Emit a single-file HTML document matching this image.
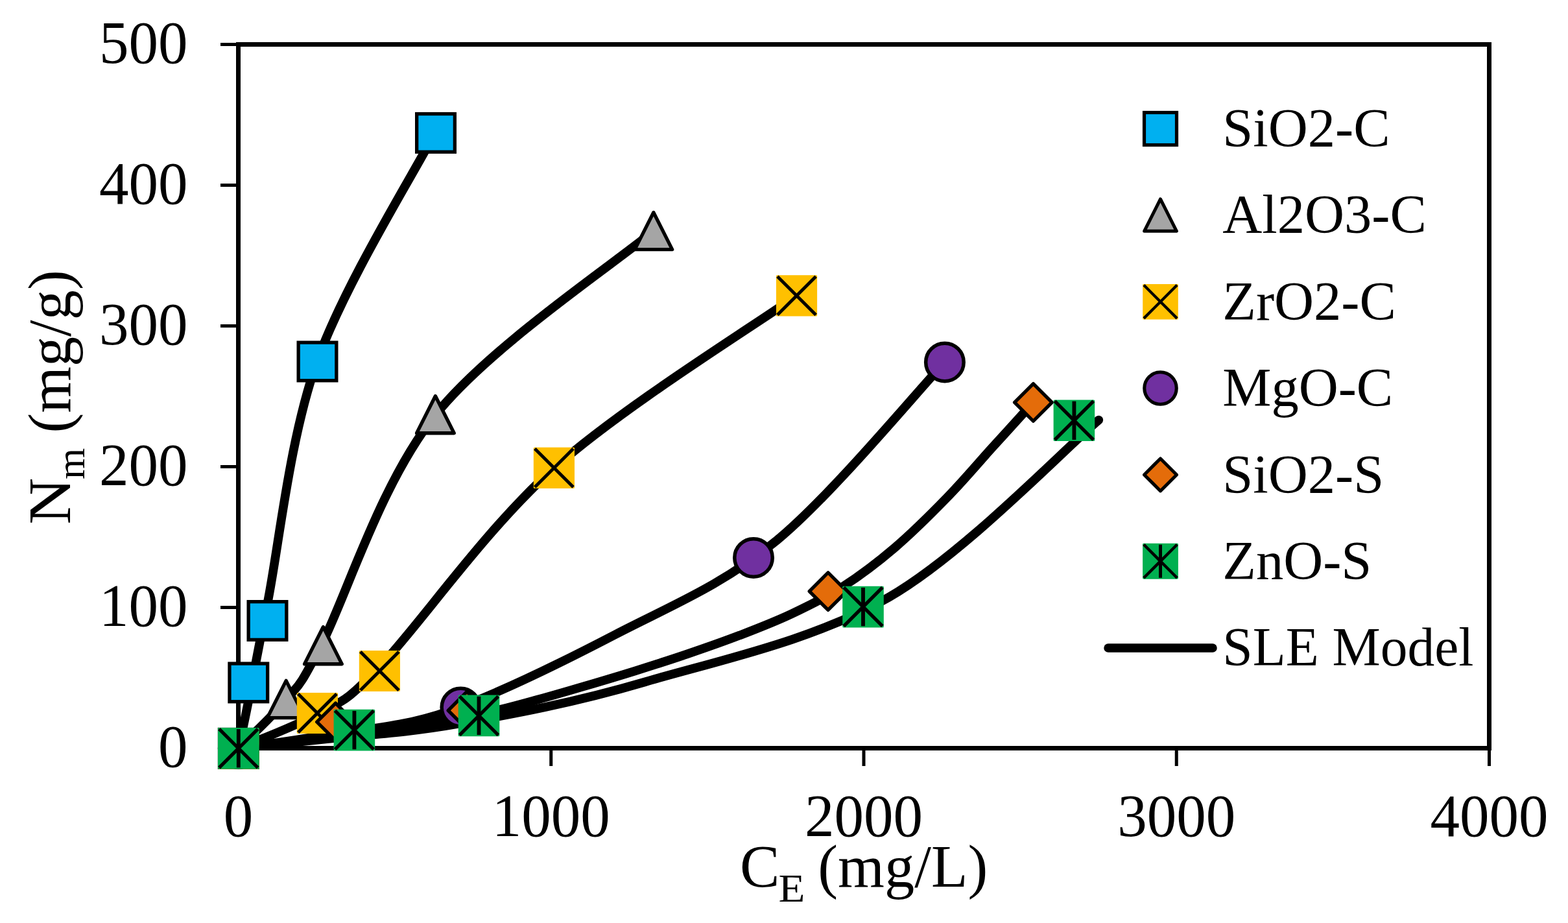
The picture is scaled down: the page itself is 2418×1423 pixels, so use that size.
<!DOCTYPE html><html><head><meta charset="utf-8"><title>Nm vs CE</title><style>html,body{margin:0;padding:0;background:#fff;}svg{display:block;}text{font-family:"Liberation Serif","Times New Roman",serif;fill:#000;}</style></head><body>
<svg xmlns="http://www.w3.org/2000/svg" width="2418" height="1423" viewBox="0 0 2418 1423">
<rect width="2418" height="1423" fill="#fff"/>
<g fill="none" stroke="#000" stroke-width="13.7" stroke-linecap="round" stroke-linejoin="round">
<path d="M368.00,1153.50 C370.55,1141.28 375.88,1117.47 383.30,1080.20 C390.72,1042.93 394.90,1017.02 412.50,929.90 C430.10,842.78 445.82,678.42 488.90,557.50 C531.98,436.58 640.65,263.25 671.00,204.40"/>
<path d="M368.00,1153.50 C380.20,1141.05 420.10,1105.00 441.21,1078.79 C462.31,1052.58 456.28,1069.38 494.63,996.21 C532.98,923.05 585.77,746.45 671.30,639.80 C756.83,533.15 951.72,403.55 1007.80,356.30"/>
<path d="M368.00,1153.50 C388.48,1144.55 454.61,1120.74 490.85,1099.81 C527.09,1078.88 524.72,1091.02 585.42,1027.91 C646.12,964.81 747.89,816.51 855.07,721.18 C962.25,625.84 1166.26,500.11 1228.50,455.90"/>
<path d="M368.00,1153.50 C390.49,1150.13 449.10,1142.70 502.92,1133.26 C556.74,1123.82 616.69,1122.66 690.94,1096.86 C765.19,1071.06 863.92,1022.43 948.43,978.46 C1032.94,934.49 1113.24,903.04 1197.99,833.03 C1282.74,763.02 1413.75,604.17 1456.90,558.40"/>
<path d="M368.00,1153.50 C380.00,1152.00 416.33,1147.25 440.00,1144.50 C463.67,1141.75 487.00,1139.83 510.00,1137.00 C533.00,1134.17 556.33,1130.50 578.00,1127.50 C599.67,1124.50 619.67,1122.25 640.00,1119.00 C660.33,1115.75 679.17,1111.92 700.00,1108.00 C720.83,1104.08 743.33,1100.43 765.00,1095.50 C786.67,1090.57 807.50,1084.64 830.00,1078.44 C852.50,1072.24 875.00,1065.68 900.00,1058.30 C925.00,1050.92 953.33,1042.52 980.00,1034.18 C1006.67,1025.85 1033.33,1017.37 1060.00,1008.29 C1086.67,999.21 1113.33,989.98 1140.00,979.72 C1166.67,969.46 1193.33,959.28 1220.00,946.71 C1246.67,934.14 1273.33,921.36 1300.00,904.28 C1326.67,887.20 1353.33,867.02 1380.00,844.24 C1406.67,821.46 1435.00,793.25 1460.00,767.58 C1485.00,741.91 1507.77,714.73 1530.00,690.20 C1552.23,665.67 1582.83,632.03 1593.40,620.40"/>
<path d="M368.00,1153.50 C389.94,1151.19 443.14,1145.95 499.61,1139.67 C556.08,1133.39 624.32,1130.55 706.82,1115.83 C789.32,1101.11 883.95,1083.88 994.60,1051.36 C1105.25,1018.84 1254.12,988.02 1370.74,920.71 C1487.36,853.40 1640.37,693.03 1694.30,647.50"/>
</g>
<g stroke="#000" fill="none">
<rect x="367.5" y="68.5" width="1929" height="1085" stroke-width="7"/>
<line x1="340" y1="68.5" x2="365" y2="68.5" stroke-width="5"/>
<line x1="340" y1="285.5" x2="365" y2="285.5" stroke-width="5"/>
<line x1="340" y1="502.5" x2="365" y2="502.5" stroke-width="5"/>
<line x1="340" y1="719.5" x2="365" y2="719.5" stroke-width="5"/>
<line x1="340" y1="936.5" x2="365" y2="936.5" stroke-width="5"/>
<line x1="340" y1="1153.5" x2="365" y2="1153.5" stroke-width="5"/>
<line x1="367.50" y1="1156" x2="367.50" y2="1181" stroke-width="5"/>
<line x1="849.75" y1="1156" x2="849.75" y2="1181" stroke-width="5"/>
<line x1="1332.00" y1="1156" x2="1332.00" y2="1181" stroke-width="5"/>
<line x1="1814.25" y1="1156" x2="1814.25" y2="1181" stroke-width="5"/>
<line x1="2296.50" y1="1156" x2="2296.50" y2="1181" stroke-width="5"/>
</g>
<rect x="338.45" y="1124.45" width="58.70" height="58.70" fill="#00B0F0" stroke="#000" stroke-width="5.30" stroke-linejoin="miter"/>
<rect x="353.95" y="1023.05" width="58.70" height="58.70" fill="#00B0F0" stroke="#000" stroke-width="5.30" stroke-linejoin="miter"/>
<rect x="383.15" y="927.65" width="58.70" height="58.70" fill="#00B0F0" stroke="#000" stroke-width="5.30" stroke-linejoin="miter"/>
<rect x="460.15" y="528.05" width="58.70" height="58.70" fill="#00B0F0" stroke="#000" stroke-width="5.30" stroke-linejoin="miter"/>
<rect x="642.65" y="175.55" width="58.70" height="58.70" fill="#00B0F0" stroke="#000" stroke-width="5.30" stroke-linejoin="miter"/>
<path d="M367.80,1124.95 L396.65,1182.15 L338.95,1182.15 Z" fill="#A5A5A5" stroke="#000" stroke-width="5.30" stroke-linejoin="round"/>
<path d="M441.20,1049.35 L470.05,1106.55 L412.35,1106.55 Z" fill="#A5A5A5" stroke="#000" stroke-width="5.30" stroke-linejoin="round"/>
<path d="M498.40,966.55 L527.25,1023.75 L469.55,1023.75 Z" fill="#A5A5A5" stroke="#000" stroke-width="5.30" stroke-linejoin="round"/>
<path d="M671.40,610.55 L700.25,667.75 L642.55,667.75 Z" fill="#A5A5A5" stroke="#000" stroke-width="5.30" stroke-linejoin="round"/>
<path d="M1007.80,327.45 L1036.65,384.65 L978.95,384.65 Z" fill="#A5A5A5" stroke="#000" stroke-width="5.30" stroke-linejoin="round"/>
<rect x="336.20" y="1122.20" width="63.20" height="63.20" rx="1.50" fill="#FFC000"/><path d="M338.11,1124.11 L397.49,1183.49 M397.49,1124.11 L338.11,1183.49" stroke="#000" stroke-width="5.02" stroke-linecap="butt"/>
<rect x="457.80" y="1067.90" width="63.20" height="63.20" rx="1.50" fill="#FFC000"/><path d="M459.71,1069.81 L519.09,1129.19 M519.09,1069.81 L459.71,1129.19" stroke="#000" stroke-width="5.02" stroke-linecap="butt"/>
<rect x="553.80" y="1002.90" width="63.20" height="63.20" rx="1.50" fill="#FFC000"/><path d="M555.71,1004.81 L615.09,1064.19 M615.09,1004.81 L555.71,1064.19" stroke="#000" stroke-width="5.02" stroke-linecap="butt"/>
<rect x="822.80" y="689.80" width="63.20" height="63.20" rx="1.50" fill="#FFC000"/><path d="M824.71,691.71 L884.09,751.09 M884.09,691.71 L824.71,751.09" stroke="#000" stroke-width="5.02" stroke-linecap="butt"/>
<rect x="1196.90" y="424.30" width="63.20" height="63.20" rx="1.50" fill="#FFC000"/><path d="M1198.81,426.21 L1258.19,485.59 M1258.19,426.21 L1198.81,485.59" stroke="#000" stroke-width="5.02" stroke-linecap="butt"/>
<circle cx="367.80" cy="1153.80" r="29.25" fill="#7030A0" stroke="#000" stroke-width="5.50"/>
<circle cx="710.40" cy="1090.40" r="29.25" fill="#7030A0" stroke="#000" stroke-width="5.50"/>
<circle cx="1162.00" cy="859.90" r="29.25" fill="#7030A0" stroke="#000" stroke-width="5.50"/>
<circle cx="1456.90" cy="558.40" r="29.25" fill="#7030A0" stroke="#000" stroke-width="5.50"/>
<path d="M367.80,1124.95 L396.65,1153.80 L367.80,1182.65 L338.95,1153.80 Z" fill="#E46C0A" stroke="#000" stroke-width="5.30" stroke-linejoin="round"/>
<path d="M517.50,1084.15 L546.35,1113.00 L517.50,1141.85 L488.65,1113.00 Z" fill="#E46C0A" stroke="#000" stroke-width="5.30" stroke-linejoin="round"/>
<path d="M720.00,1066.45 L748.85,1095.30 L720.00,1124.15 L691.15,1095.30 Z" fill="#E46C0A" stroke="#000" stroke-width="5.30" stroke-linejoin="round"/>
<path d="M1277.00,882.75 L1305.85,911.60 L1277.00,940.45 L1248.15,911.60 Z" fill="#E46C0A" stroke="#000" stroke-width="5.30" stroke-linejoin="round"/>
<path d="M1593.40,591.55 L1622.25,620.40 L1593.40,649.25 L1564.55,620.40 Z" fill="#E46C0A" stroke="#000" stroke-width="5.30" stroke-linejoin="round"/>
<rect x="336.00" y="1122.00" width="63.60" height="63.60" rx="1.51" fill="#00B050"/><path d="M337.92,1123.92 L397.68,1183.68 M397.68,1123.92 L337.92,1183.68" stroke="#000" stroke-width="5.25" stroke-linecap="butt"/><path d="M367.80,1124.12 L367.80,1183.48" stroke="#000" stroke-width="5.86"/>
<rect x="514.60" y="1093.80" width="63.60" height="63.60" rx="1.51" fill="#00B050"/><path d="M516.52,1095.72 L576.28,1155.48 M576.28,1095.72 L516.52,1155.48" stroke="#000" stroke-width="5.25" stroke-linecap="butt"/><path d="M546.40,1095.92 L546.40,1155.28" stroke="#000" stroke-width="5.86"/>
<rect x="706.70" y="1071.60" width="63.60" height="63.60" rx="1.51" fill="#00B050"/><path d="M708.62,1073.52 L768.38,1133.28 M768.38,1073.52 L708.62,1133.28" stroke="#000" stroke-width="5.25" stroke-linecap="butt"/><path d="M738.50,1073.72 L738.50,1133.08" stroke="#000" stroke-width="5.86"/>
<rect x="1299.20" y="903.80" width="63.60" height="63.60" rx="1.51" fill="#00B050"/><path d="M1301.12,905.72 L1360.88,965.48 M1360.88,905.72 L1301.12,965.48" stroke="#000" stroke-width="5.25" stroke-linecap="butt"/><path d="M1331.00,905.92 L1331.00,965.28" stroke="#000" stroke-width="5.86"/>
<rect x="1624.60" y="616.50" width="63.60" height="63.60" rx="1.51" fill="#00B050"/><path d="M1626.52,618.42 L1686.28,678.18 M1686.28,618.42 L1626.52,678.18" stroke="#000" stroke-width="5.25" stroke-linecap="butt"/><path d="M1656.40,618.62 L1656.40,677.98" stroke="#000" stroke-width="5.86"/>
<text transform="matrix(1,0,0,1.03,289.5,96.9)" font-size="91" text-anchor="end">500</text>
<text transform="matrix(1,0,0,1.03,289.5,313.9)" font-size="91" text-anchor="end">400</text>
<text transform="matrix(1,0,0,1.03,289.5,530.9)" font-size="91" text-anchor="end">300</text>
<text transform="matrix(1,0,0,1.03,289.5,747.9)" font-size="91" text-anchor="end">200</text>
<text transform="matrix(1,0,0,1.03,289.5,964.9)" font-size="91" text-anchor="end">100</text>
<text transform="matrix(1,0,0,1.03,289.5,1181.9)" font-size="91" text-anchor="end">0</text>
<text transform="matrix(1,0,0,1.03,367.50,1288.6)" font-size="91" text-anchor="middle">0</text>
<text transform="matrix(1,0,0,1.03,849.75,1288.6)" font-size="91" text-anchor="middle">1000</text>
<text transform="matrix(1,0,0,1.03,1332.00,1288.6)" font-size="91" text-anchor="middle">2000</text>
<text transform="matrix(1,0,0,1.03,1814.25,1288.6)" font-size="91" text-anchor="middle">3000</text>
<text transform="matrix(1,0,0,1.03,2296.50,1288.6)" font-size="91" text-anchor="middle">4000</text>
<g>
<text transform="matrix(1,0,0,1.02,1141,1366.6)" font-size="92">C</text>
<text transform="matrix(1.08,0,0,1,1200.5,1390)" font-size="62">E</text>
<text transform="matrix(1.005,0,0,1.02,1261.3,1366.6)" font-size="92">(mg/L)</text>
</g>
<g transform="translate(108,0) rotate(-90)">
<text transform="matrix(1.08,0,0,1.01,-808.5,0)" font-size="92">N</text>
<text transform="matrix(1,0,0,1,-739,22.2)" font-size="62">m</text>
<text transform="matrix(1.003,0,0,1.02,-667.5,0)" font-size="92">(mg/g)</text>
</g>
<rect x="1764.50" y="173.50" width="50.00" height="50.00" fill="#00B0F0" stroke="#000" stroke-width="5.20" stroke-linejoin="miter"/>
<text x="1885.3" y="225.9" font-size="84.5">SiO2-C</text>
<path d="M1789.50,306.95 L1814.40,356.32 L1764.60,356.32 Z" fill="#A5A5A5" stroke="#000" stroke-width="5.00" stroke-linejoin="round"/>
<text x="1885.3" y="359.3" font-size="84.5">Al2O3-C</text>
<rect x="1762.20" y="437.90" width="54.60" height="54.60" rx="1.30" fill="#FFC000"/><path d="M1763.85,439.55 L1815.15,490.85 M1815.15,439.55 L1763.85,490.85" stroke="#000" stroke-width="4.33" stroke-linecap="butt"/>
<text x="1885.3" y="492.7" font-size="84.5">ZrO2-C</text>
<circle cx="1789.50" cy="598.55" r="24.75" fill="#7030A0" stroke="#000" stroke-width="5.10"/>
<text x="1885.3" y="626.1" font-size="84.5">MgO-C</text>
<path d="M1789.50,706.90 L1814.50,731.90 L1789.50,756.90 L1764.50,731.90 Z" fill="#E46C0A" stroke="#000" stroke-width="5.00" stroke-linejoin="round"/>
<text x="1885.3" y="759.5" font-size="84.5">SiO2-S</text>
<rect x="1762.10" y="837.85" width="54.80" height="54.80" rx="1.30" fill="#00B050"/><path d="M1763.75,839.50 L1815.25,891.00 M1815.25,839.50 L1763.75,891.00" stroke="#000" stroke-width="4.52" stroke-linecap="butt"/><path d="M1789.50,839.68 L1789.50,890.82" stroke="#000" stroke-width="5.05"/>
<text x="1885.3" y="892.9" font-size="84.5">ZnO-S</text>
<line x1="1709" y1="999" x2="1870" y2="999" stroke="#000" stroke-width="13.5" stroke-linecap="round"/>
<text transform="matrix(0.988,0,0,1,1885.3,1026.3)" font-size="84.5">SLE Model</text>
</svg></body></html>
